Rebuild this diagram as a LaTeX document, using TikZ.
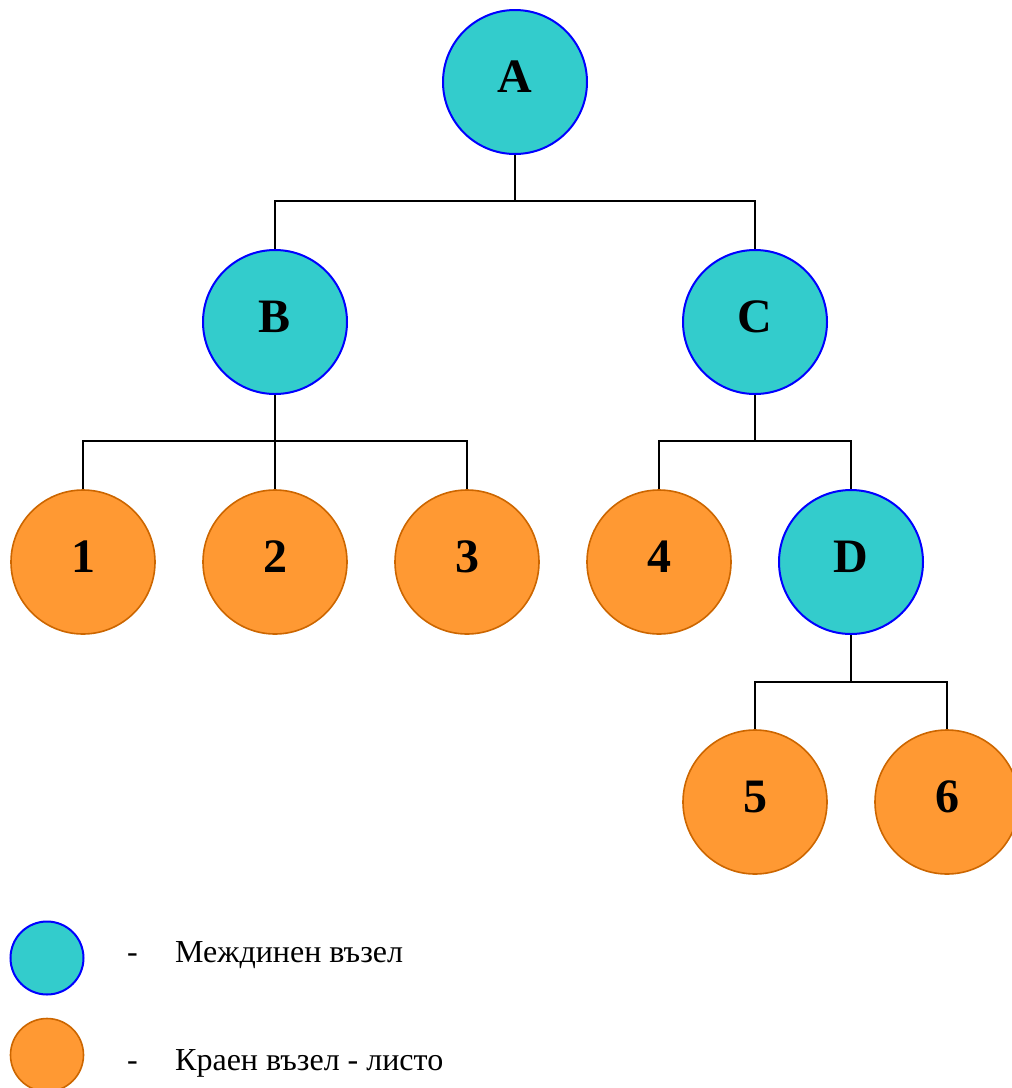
\documentclass[tikz,border=0pt]{standalone}
\usepackage{fontspec}
\setmainfont{Liberation Serif}
\definecolor{cyanfill}{HTML}{33CCCC}
\definecolor{orangefill}{HTML}{FF9933}
\definecolor{orangeedge}{HTML}{CC6600}
\begin{document}
\begin{tikzpicture}[x=1pt,y=-1pt,
  inode/.style={circle, draw=blue, fill=cyanfill, line width=2pt, minimum size=144pt, inner sep=0pt,
    font=\bfseries\fontsize{48}{48}\selectfont, text height=32pt, text depth=12pt},
  lnode/.style={circle, draw=orangeedge, fill=orangefill, line width=1.6pt, minimum size=144pt, inner sep=0pt,
    font=\bfseries\fontsize{48}{48}\selectfont, text height=32pt, text depth=12pt},
  conn/.style={draw=black, line width=2pt},
  legtext/.style={anchor=base west, inner sep=0pt, font=\fontsize{32}{32}\selectfont}]
\useasboundingbox (0,0) rectangle (1012,1088);
\node[inode] (A) at (515,82) {A};
\node[inode] (B) at (275,322) {B};
\node[inode] (C) at (755,322) {C};
\node[lnode] (n1) at (83,562) {1};
\node[lnode] (n2) at (275,562) {2};
\node[lnode] (n3) at (467,562) {3};
\node[lnode] (n4) at (659,562) {4};
\node[inode] (D) at (851,562) {D};
\node[lnode] (n5) at (755,802) {5};
\node[lnode] (n6) at (947,802) {6};
\coordinate (jA) at (515,201);
\coordinate (jB) at (275,441);
\coordinate (jC) at (755,441);
\coordinate (jD) at (851,682);
\draw[conn] (A.south) -- (jA);
\draw[conn] (B.north) |- (jA) -| (C.north);
\draw[conn] (B.south) -- (jB);
\draw[conn] (n1.north) |- (jB) -| (n3.north);
\draw[conn] (jB) -- (n2.north);
\draw[conn] (C.south) -- (jC);
\draw[conn] (n4.north) |- (jC) -| (D.north);
\draw[conn] (D.south) -- (jD);
\draw[conn] (n5.north) |- (jD) -| (n6.north);
% legend
\node[inode, minimum size=73pt] (legI) at (47,958) {};
\node[lnode, minimum size=73pt] (legL) at (47,1055) {};
\node[legtext] (dashI) at (127,962) {-};
\node[legtext] (txtI) at (175,962) {Междинен възел};
\node[legtext] (dashL) at (127,1070) {-};
\node[legtext] (txtL) at (175,1070) {Краен възел - листо};
\end{tikzpicture}
\end{document}
